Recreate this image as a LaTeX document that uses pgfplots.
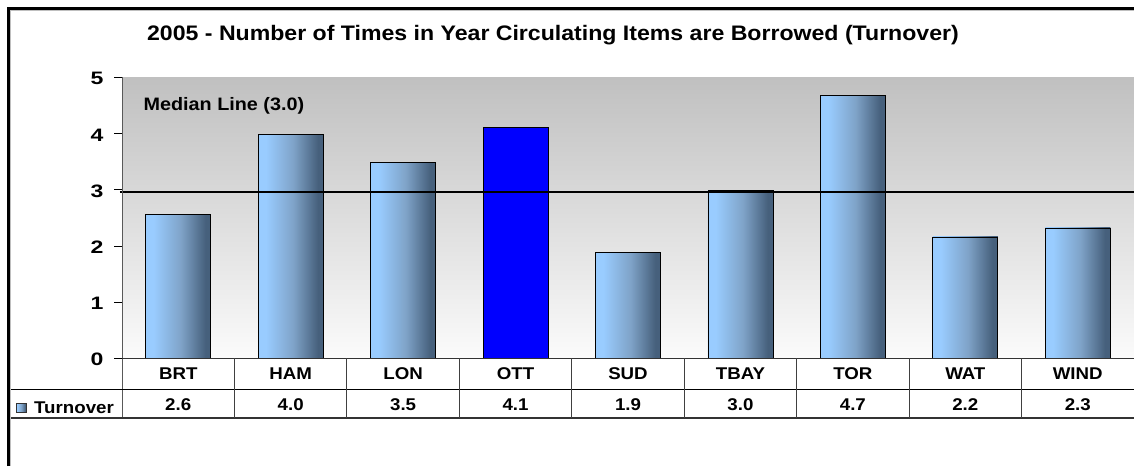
\documentclass[border=0pt]{standalone}
\usepackage{pgfplots}
\pgfplotsset{compat=1.18}
\usepackage{fontspec}
\setmainfont[FakeStretch=1.1]{Liberation Sans}
\newfontfamily\tickfont[FakeStretch=1.28]{Liberation Sans}
\definecolor{barlight}{HTML}{99CCFF}
\definecolor{barmid}{HTML}{7FA3C8}
\definecolor{bardark}{HTML}{46607C}
\definecolor{bgtop}{HTML}{C0C0C0}
\definecolor{bgbot}{HTML}{FBFBFB}
\pgfdeclarehorizontalshading{barshade}{100bp}{color(0bp)=(barlight); color(25bp)=(barlight); color(31bp)=(barlight); color(52bp)=(barmid); color(71bp)=(bardark); color(75bp)=(bardark); color(100bp)=(bardark)}
\pgfplotsset{turnbar/.style={ybar, bar width=65pt, bar shift=0pt, draw=black, line width=0.8pt, shade, shading=barshade}}
\begin{document}
\begin{tikzpicture}[x=1pt,y=1pt]
\useasboundingbox (0,0) rectangle (1134,466);
\fill[white] (0,0) rectangle (1134,466);
% title
\node[font=\bfseries\fontsize{21}{21}\selectfont] at (553,431) {2005 - Number of Times in Year Circulating Items are Borrowed (Turnover)};
\begin{axis}[
  at={(122pt,107.7pt)}, anchor=south west, scale only axis,
  width=1012pt, height=281pt,
  xmin=-0.5, xmax=8.5, ymin=0, ymax=5,
  ytick={0,1,2,3,4,5},
  xtick={0,1,2,3,4,5,6,7,8},
  xticklabels={BRT,HAM,LON,OTT,SUD,TBAY,TOR,WAT,WIND},
  extra x ticks={0,1,2,3,4,5,6,7,8},
  extra x tick labels={2.6,4.0,3.5,4.1,1.9,3.0,4.7,2.2,2.3},
  extra x tick style={major tick length=0pt, xticklabel style={yshift=-39.4pt}},
  axis line style={draw=none},
  axis background/.style={shade, top color=bgtop, bottom color=bgbot},
  ytick pos=left, tick align=outside, major tick length=8pt,
  xtick style={draw=none}, ytick style={black, line width=0.8pt},
  yticklabel style={font=\tickfont\bfseries\fontsize{18}{18}\selectfont, xshift=-7pt, yshift=-1.5pt},
  xticklabel style={font=\bfseries\fontsize{17}{17}\selectfont, anchor=base, yshift=-13pt},
  /pgf/number format/assume math mode=true,
  clip=false,
]
\addplot[turnbar] coordinates {(0,2.555)};
\addplot[turnbar] coordinates {(1,3.986)};
\addplot[turnbar] coordinates {(2,3.488)};
\addplot[ybar, bar width=65pt, bar shift=0pt, draw=black, line width=0.8pt, fill=blue] coordinates {(3,4.11)};
\addplot[turnbar] coordinates {(4,1.89)};
\addplot[turnbar] coordinates {(5,2.98)};
\addplot[turnbar] coordinates {(6,4.68)};
\addplot[turnbar] coordinates {(7,2.16)};
\addplot[turnbar] coordinates {(8,2.32)};
\addplot[black, line width=2.2pt] coordinates {(-0.52,2.955) (8.5,2.955)};
\node[anchor=west, inner sep=0pt, font=\bfseries\fontsize{18}{18}\selectfont] at (axis cs:-0.31,4.49) {Median Line (3.0)};
\end{axis}
% axis lines and table
\draw[gray!70!black, line width=1pt] (122,388.7) -- (122,48);
\draw[black!80, line width=1pt] (122,107.7) -- (1134,107.7);
\draw[black, line width=1pt] (10,76.5) -- (1134,76.5);
\draw[black!80, line width=1.2pt] (10,48) -- (1134,48);
\foreach \k in {1,...,8} {
  \draw[black!75, line width=1pt] ({122+\k*112.444},107.7) -- ({122+\k*112.444},48);
}
% legend key
\path[shade, shading=barshade, draw=black!80, line width=0.6pt] (16,53.5) rectangle (26,62.5);
\node[anchor=west, font=\bfseries\fontsize{17}{17}\selectfont, inner sep=0pt] at (34,58) {Turnover};
% outer frame
\draw[black!25, line width=1.5pt] (10,0) -- (10,455.5) -- (1134,455.5);
\draw[black, line width=3pt] (8.5,0) -- (8.5,457.5) -- (1134,457.5);
\end{tikzpicture}
\end{document}
